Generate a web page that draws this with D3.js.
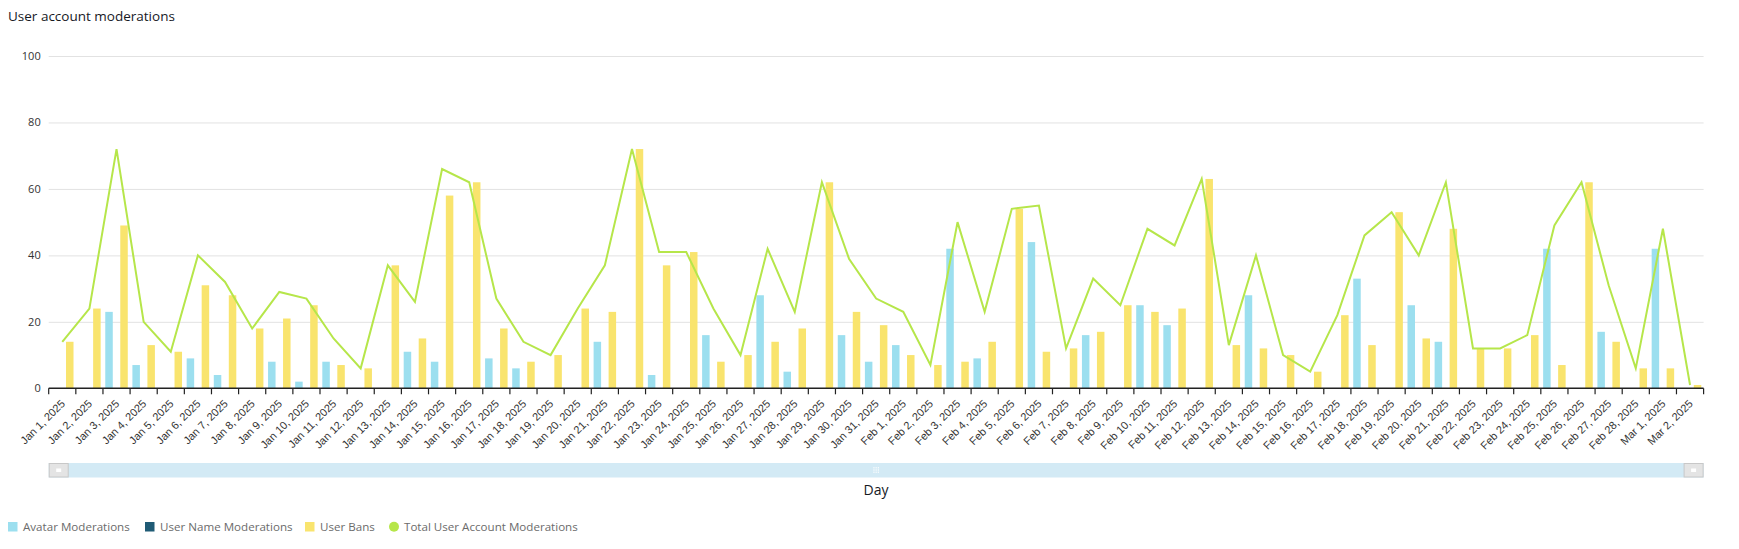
<!DOCTYPE html>
<html>
<head>
<meta charset="utf-8">
<script src="https://cdn.jsdelivr.net/npm/d3@7"></script>
<style>
  html, body { margin: 0; padding: 0; background: #fff; }
  svg { display: block; font-family: "Open Sans", "Noto Sans", sans-serif; }
</style>
</head>
<body>
<svg id="chart" width="1739" height="549"></svg>
<script>
const days = ["Jan 1, 2025","Jan 2, 2025","Jan 3, 2025","Jan 4, 2025","Jan 5, 2025","Jan 6, 2025","Jan 7, 2025","Jan 8, 2025","Jan 9, 2025","Jan 10, 2025",
  "Jan 11, 2025","Jan 12, 2025","Jan 13, 2025","Jan 14, 2025","Jan 15, 2025","Jan 16, 2025","Jan 17, 2025","Jan 18, 2025","Jan 19, 2025","Jan 20, 2025",
  "Jan 21, 2025","Jan 22, 2025","Jan 23, 2025","Jan 24, 2025","Jan 25, 2025","Jan 26, 2025","Jan 27, 2025","Jan 28, 2025","Jan 29, 2025","Jan 30, 2025",
  "Jan 31, 2025","Feb 1, 2025","Feb 2, 2025","Feb 3, 2025","Feb 4, 2025","Feb 5, 2025","Feb 6, 2025","Feb 7, 2025","Feb 8, 2025","Feb 9, 2025",
  "Feb 10, 2025","Feb 11, 2025","Feb 12, 2025","Feb 13, 2025","Feb 14, 2025","Feb 15, 2025","Feb 16, 2025","Feb 17, 2025","Feb 18, 2025","Feb 19, 2025",
  "Feb 20, 2025","Feb 21, 2025","Feb 22, 2025","Feb 23, 2025","Feb 24, 2025","Feb 25, 2025","Feb 26, 2025","Feb 27, 2025","Feb 28, 2025","Mar 1, 2025",
  "Mar 2, 2025"];
const avatarModerations = [0,0,23,7,0,9,4,0,8,2, 8,0,0,11,8,0,9,6,0,0, 14,0,4,0,16,0,28,5,0,16, 8,13,0,42,9,0,44,0,16,0, 25,19,0,0,28,0,0,0,33,0, 25,14,0,0,0,42,0,17,0,42, 0];
const userNameModerations = [0,0,0,0,0,0,0,0,0,0, 0,0,0,0,0,0,0,0,0,0, 0,0,0,0,0,0,0,0,0,0, 0,0,0,0,0,0,0,0,0,0, 0,0,0,0,0,0,0,0,0,0, 0,0,0,0,0,0,0,0,0,0, 0];
const userBans = [14,24,49,13,11,31,28,18,21,25, 7,6,37,15,58,62,18,8,10,24, 23,72,37,41,8,10,14,18,62,23, 19,10,7,8,14,54,11,12,17,25, 23,24,63,13,12,10,5,22,13,53, 15,48,12,12,16,7,62,14,6,6, 1];
const totalModerations = [14,24,72,20,11,40,32,18,29,27, 15,6,37,26,66,62,27,14,10,24, 37,72,41,41,24,10,42,23,62,39, 27,23,7,50,23,54,55,12,33,25, 48,43,63,13,40,10,5,22,46,53, 40,62,12,12,16,49,62,31,6,48, 1];
const yTicks = [0,20,40,60,80,100];
const seriesNames = ["Avatar Moderations","User Name Moderations","User Bans"];
const lineName = "Total User Account Moderations";
const colors = {"Avatar Moderations":"#9cdfef","User Name Moderations":"#1f5b75","User Bans":"#f9e46e","Total User Account Moderations":"#b6e64a"};

const svg = d3.select("#chart");
const plotLeft = 48.7, plotRight = 1703.6, plotTop = 56, plotBottom = 388.3;

const x = d3.scaleBand().domain(days).range([plotLeft, plotRight]).padding(0);
const groupW = 22.5;
const x1 = d3.scaleBand().domain(seriesNames).range([0, groupW]).padding(0);
const y = d3.scaleLinear().domain([0, 100]).range([plotBottom, plotTop]);

const seriesData = {"Avatar Moderations": avatarModerations, "User Name Moderations": userNameModerations, "User Bans": userBans};

// title
svg.append("text").attr("x", 8).attr("y", 21).attr("font-size", 13.5).attr("fill", "#16191f").text("User account moderations");

// gridlines + y axis
const gy = svg.append("g").attr("transform", `translate(${plotLeft},0)`)
  .call(d3.axisLeft(y).tickValues(yTicks).tickSize(-(plotRight - plotLeft)).tickPadding(8).tickFormat(d3.format("d")));
gy.select(".domain").remove();
gy.selectAll(".tick line").attr("stroke", d => d === 0 ? "none" : "#e2e2e2").attr("stroke-width", 1);
gy.selectAll(".tick text").attr("font-size", 11).attr("fill", "#333").attr("font-family", "'Open Sans', sans-serif");

// bars
const barG = svg.append("g");
seriesNames.forEach(name => {
  barG.selectAll(null).data(days).enter().append("rect")
    .attr("x", (d) => x(d) + (x.bandwidth() - groupW) / 2 + x1(name))
    .attr("width", x1.bandwidth())
    .attr("y", (d, i) => y(seriesData[name][i]))
    .attr("height", (d, i) => y(0) - y(seriesData[name][i]))
    .attr("fill", colors[name]);
});

// line
const line = d3.line().x((d, i) => x(days[i]) + x.bandwidth() / 2).y(d => y(d));
svg.append("path").datum(totalModerations).attr("d", line)
  .attr("fill", "none").attr("stroke", colors[lineName]).attr("stroke-width", 2).attr("stroke-linejoin", "miter");

// x axis
const gx = svg.append("g").attr("transform", `translate(0,${plotBottom})`)
  .call(d3.axisBottom(x).tickSize(0).tickPadding(0));
gx.select(".domain").remove();
gx.selectAll(".tick text")
  .attr("font-size", 11).attr("fill", "#333")
  .attr("text-anchor", "end")
  .attr("dy", 0)
  .attr("y", 0)
  .attr("transform", "translate(3.5,16) rotate(-45)");
svg.append("line").attr("x1", plotLeft).attr("x2", plotRight).attr("y1", plotBottom).attr("y2", plotBottom).attr("stroke", "#222").attr("stroke-width", 1.5);
const boundaries = days.map(d => x(d)).concat([plotRight]);
svg.append("g").selectAll("line").data(boundaries).enter().append("line")
  .attr("x1", d => d).attr("x2", d => d).attr("y1", plotBottom).attr("y2", plotBottom + 6)
  .attr("stroke", "#222").attr("stroke-width", 1.2);

// scrollbar
const sb = svg.append("g");
sb.append("rect").attr("x", plotLeft).attr("y", 463).attr("width", plotRight - plotLeft).attr("height", 14.5).attr("fill", "#d3eaf5");
[[plotLeft, plotLeft + 20], [plotRight - 20, plotRight]].forEach(([a, b]) => {
  sb.append("rect").attr("x", a + 0.5).attr("y", 463.5).attr("width", b - a - 1).attr("height", 13.5)
    .attr("fill", "#e4e4e4").attr("stroke", "#c8c8c8").attr("stroke-width", 1);
  sb.append("rect").attr("x", (a + b) / 2 - 2.5).attr("y", 468.5).attr("width", 5).attr("height", 3.5).attr("fill", "#fff");
});
const mid = (plotLeft + plotRight) / 2;
for (let i = -1; i <= 1; i++) for (let j = -1; j <= 1; j++) {
  sb.append("rect").attr("x", mid + i * 2.2 - 0.6).attr("y", 470 + j * 2.2 - 0.6).attr("width", 1.2).attr("height", 1.2).attr("fill", "#fff");
}

// x axis title
svg.append("text").attr("x", 876).attr("y", 495).attr("text-anchor", "middle").attr("font-size", 14).attr("fill", "#16191f").text("Day");

// legend
const legendItems = [
  {name: "Avatar Moderations", x: 8, shape: "rect"},
  {name: "User Name Moderations", x: 145, shape: "rect"},
  {name: "User Bans", x: 305, shape: "rect"},
  {name: "Total User Account Moderations", x: 389, shape: "circle"}
];
const lg = svg.append("g");
legendItems.forEach(it => {
  if (it.shape === "rect") {
    lg.append("rect").attr("x", it.x).attr("y", 522).attr("width", 9.5).attr("height", 9.5).attr("fill", colors[it.name]);
  } else {
    lg.append("circle").attr("cx", it.x + 5).attr("cy", 526.8).attr("r", 5).attr("fill", colors[it.name]);
  }
  lg.append("text").attr("x", it.x + 15).attr("y", 531).attr("font-size", 11.6).attr("fill", "#6b6b6b").text(it.name);
});
</script>
</body>
</html>
